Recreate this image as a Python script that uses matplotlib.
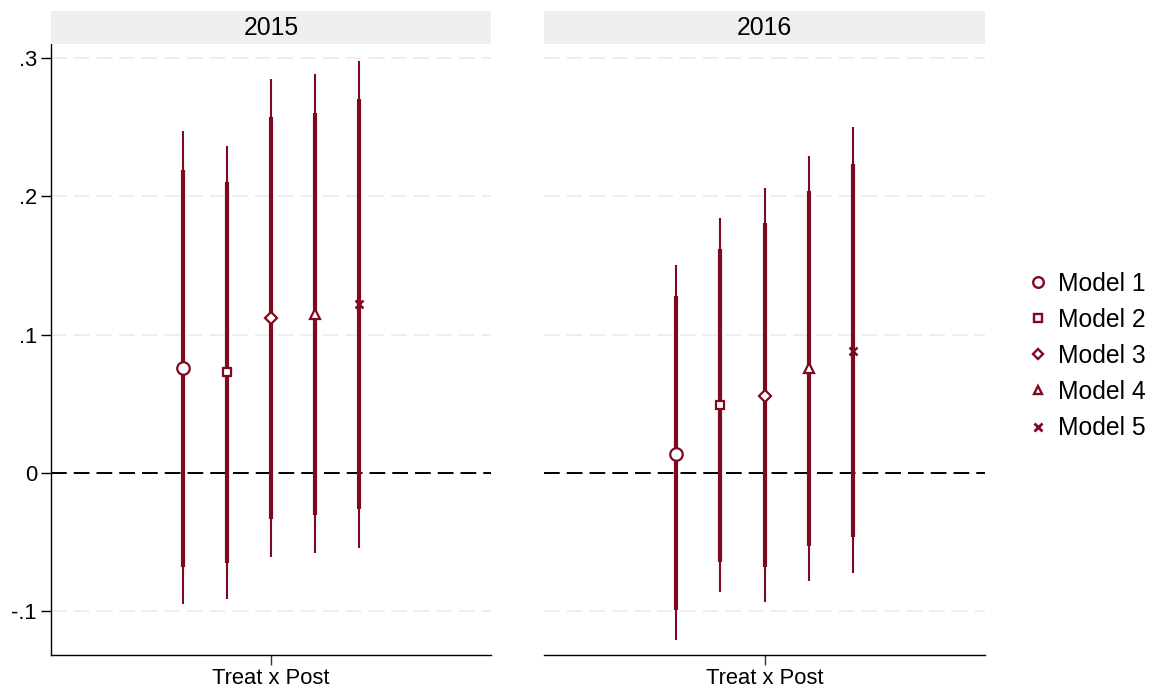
import matplotlib
matplotlib.use("Agg")
import matplotlib.pyplot as plt
from matplotlib.lines import Line2D

plt.rcParams['font.family'] = ['Liberation Sans', 'DejaVu Sans']

# Coefficient estimates with 90% (thick) and 95% (thin) confidence bounds
years = ["2015", "2016"]
models = ["Model 1", "Model 2", "Model 3", "Model 4", "Model 5"]
term_label = "Treat x Post"

coef_2015 = [0.076, 0.073, 0.112, 0.115, 0.122]
lo90_2015 = [-0.068, -0.065, -0.033, -0.030, -0.026]
hi90_2015 = [0.219, 0.210, 0.257, 0.260, 0.270]
lo95_2015 = [-0.095, -0.091, -0.061, -0.058, -0.054]
hi95_2015 = [0.247, 0.236, 0.285, 0.288, 0.298]

coef_2016 = [0.014, 0.049, 0.056, 0.076, 0.088]
lo90_2016 = [-0.099, -0.064, -0.068, -0.053, -0.046]
hi90_2016 = [0.128, 0.162, 0.181, 0.204, 0.223]
lo95_2016 = [-0.121, -0.086, -0.093, -0.078, -0.072]
hi95_2016 = [0.150, 0.184, 0.206, 0.229, 0.250]

yticks = [-0.1, 0, 0.1, 0.2, 0.3]
ytick_labels = ["-.1", "0", ".1", ".2", ".3"]

panels = {
    "2015": (coef_2015, lo90_2015, hi90_2015, lo95_2015, hi95_2015),
    "2016": (coef_2016, lo90_2016, hi90_2016, lo95_2016, hi95_2016),
}

RED = "#7e0a22"
markers = ["o", "s", "D", "^", "x"]
msizes = [9, 6, 6.5, 7.5, 5.5]
offsets = [-0.2, -0.1, 0.0, 0.1, 0.2]

W, H = 1161, 693
fig = plt.figure(figsize=(W / 100, H / 100), dpi=100)

ax_boxes = [(51, 44, 491, 655), (544, 44, 985, 655)]
FS_TICK = 15.8
FS_BIG = 17.8

for i, (yr, box) in enumerate(zip(years, ax_boxes)):
    x0, y0, x1, y1 = box
    ax = fig.add_axes([x0 / W, 1 - y1 / H, (x1 - x0) / W, (y1 - y0) / H])
    coef, lo90, hi90, lo95, hi95 = panels[yr]
    ax.set_xlim(-0.5, 0.5)
    ax.set_ylim(-0.1315, 0.31)

    # light dashed gridlines, black dashed reference line at zero
    for yv in yticks:
        if yv != 0:
            ax.axhline(yv, color="#ebebeb", lw=1.2, dashes=(9.4, 4.2), zorder=0)
    ax.axhline(0, color="black", lw=1.4, dashes=(8.1, 3.6), zorder=1)

    for j in range(len(models)):
        xp = offsets[j]
        ax.vlines(xp, lo95[j], hi95[j], color=RED, lw=1.5, zorder=2)
        ax.vlines(xp, lo90[j], hi90[j], color=RED, lw=3.0, zorder=3)
        if markers[j] == "x":
            ax.plot(xp, coef[j], marker="x", ms=msizes[j], mew=1.8,
                    color=RED, zorder=4, ls="none")
        else:
            ax.plot(xp, coef[j], marker=markers[j], ms=msizes[j], mew=1.6,
                    mec=RED, mfc="white", zorder=4, ls="none")

    ax.set_xticks([0])
    ax.set_xticklabels([term_label], fontsize=FS_TICK)
    ax.tick_params(axis="x", length=7, width=1, color="#333333", pad=2)
    ax.spines["top"].set_visible(False)
    ax.spines["right"].set_visible(False)
    ax.spines["bottom"].set_linewidth(1.0)
    if i == 0:
        ax.set_yticks(yticks)
        ax.set_yticklabels(ytick_labels, fontsize=FS_TICK)
        ax.tick_params(axis="y", length=7, width=1, pad=3)
        ax.spines["left"].set_linewidth(1.0)
    else:
        ax.set_yticks([])
        ax.spines["left"].set_visible(False)

    # strip header
    sax = fig.add_axes([x0 / W, 1 - y0 / H, (x1 - x0) / W, 33 / H])
    sax.set_facecolor("#efefef")
    for s in sax.spines.values():
        s.set_visible(False)
    sax.set_xticks([])
    sax.set_yticks([])
    sax.text(0.5, 0.47, yr, ha="center", va="center", fontsize=FS_BIG,
             transform=sax.transAxes)

handles = []
for j, m in enumerate(models):
    if markers[j] == "x":
        h = Line2D([], [], marker="x", ms=6.0, mew=2.0, color=RED, ls="none")
    else:
        h = Line2D([], [], marker=markers[j], ms=msizes[j] * 0.85, mew=1.7,
                   mec=RED, mfc="white", ls="none")
    handles.append(h)

fig.legend(handles, models, loc="center left", bbox_to_anchor=(1026 / W, 1 - 356 / H),
           frameon=False, fontsize=FS_BIG, handlelength=1.0, handletextpad=0.3,
           labelspacing=0.49, borderaxespad=0, borderpad=0)

fig.savefig("out.png", dpi=100)
